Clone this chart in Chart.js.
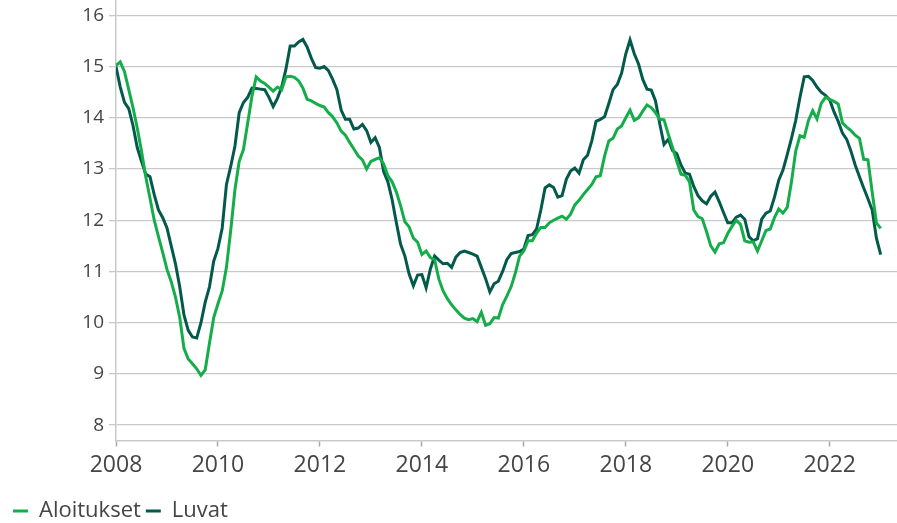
<!DOCTYPE html>
<html>
<head>
<meta charset="utf-8">
<script src="https://cdn.jsdelivr.net/npm/chart.js@4"></script>
<style>
  html, body { margin: 0; padding: 0; background: #fff; }
  #wrap { width: 897px; height: 523px; position: relative; }
</style>
</head>
<body>
<div id="wrap"><canvas id="lineChart"></canvas></div>
<script>
// monthly series, Jan 2008 .. Jan 2023
const startYear = 2008;

const aloitukset = [
  15.02, 15.09, 14.9, 14.55, 14.2, 13.8, 13.35, 12.85, 12.43, 12.0, 11.68, 11.37,
  11.04, 10.8, 10.5, 10.1, 9.5, 9.29, 9.2, 9.1, 8.97, 9.08, 9.6, 10.1,
  10.37, 10.62, 11.08, 11.8, 12.6, 13.15, 13.38, 13.9, 14.42, 14.8, 14.72, 14.67,
  14.6, 14.52, 14.6, 14.55, 14.8, 14.81, 14.79, 14.72, 14.58, 14.36, 14.33, 14.28,
  14.24, 14.21, 14.1, 14.02, 13.9, 13.74, 13.66, 13.52, 13.39, 13.26, 13.18, 13.0,
  13.15, 13.19, 13.22, 13.1, 12.87, 12.75, 12.55, 12.28, 11.97, 11.87, 11.65, 11.57,
  11.33, 11.4, 11.27, 11.23, 10.85, 10.62, 10.47, 10.35, 10.25, 10.16, 10.09, 10.06,
  10.08, 10.02, 10.2, 9.95, 9.98, 10.1, 10.09, 10.35, 10.52, 10.7, 10.97, 11.3,
  11.4, 11.6, 11.6, 11.75, 11.86, 11.86, 11.95, 12.0, 12.04, 12.08, 12.02, 12.12,
  12.3, 12.39, 12.5, 12.6, 12.7, 12.85, 12.87, 13.25, 13.55, 13.6, 13.78, 13.84,
  14.0, 14.15, 13.95, 14.0, 14.13, 14.25, 14.2, 14.1, 13.97, 13.96, 13.68, 13.42,
  13.15, 12.9, 12.88, 12.75, 12.2, 12.07, 12.03, 11.78, 11.5, 11.38, 11.54, 11.56,
  11.74, 11.88, 12.0, 11.92, 11.6, 11.57, 11.58, 11.4, 11.6, 11.8, 11.83, 12.05,
  12.22, 12.14, 12.25, 12.75, 13.35, 13.65, 13.62, 13.95, 14.14, 13.98, 14.28, 14.4,
  14.36, 14.32, 14.27, 13.9, 13.82, 13.75, 13.66, 13.6, 13.19, 13.18, 12.55, 11.95,
  11.84
];

const luvat = [
  15.0, 14.6, 14.3, 14.18, 13.85, 13.42, 13.15, 12.9, 12.85, 12.5, 12.2, 12.05,
  11.85, 11.5, 11.15, 10.7, 10.15, 9.85, 9.72, 9.7, 10.0, 10.4, 10.7, 11.2,
  11.45, 11.85, 12.7, 13.05, 13.45, 14.1, 14.3, 14.4, 14.58, 14.57, 14.56, 14.55,
  14.4, 14.22, 14.38, 14.6, 14.95, 15.4, 15.4, 15.48, 15.53, 15.38, 15.16, 14.98,
  14.97, 15.0, 14.92, 14.75, 14.55, 14.15, 13.97, 13.97, 13.78, 13.8, 13.87, 13.75,
  13.52, 13.61, 13.42, 12.95, 12.75, 12.4, 11.95, 11.53, 11.3, 10.95, 10.72, 10.93,
  10.94, 10.68, 11.05, 11.3, 11.22, 11.15, 11.16, 11.08, 11.28, 11.37, 11.4, 11.37,
  11.34, 11.3, 11.08, 10.86, 10.6, 10.76, 10.81, 11.0, 11.23, 11.35, 11.37, 11.39,
  11.44, 11.7, 11.72, 11.83, 12.2, 12.63, 12.69, 12.64, 12.45, 12.48, 12.8, 12.96,
  13.02, 12.92, 13.18, 13.27, 13.55, 13.93, 13.97, 14.02, 14.28, 14.55, 14.65, 14.87,
  15.25, 15.52, 15.25, 15.05, 14.75, 14.56, 14.54, 14.33, 13.88, 13.48, 13.58, 13.36,
  13.3, 13.08, 12.92, 12.9, 12.66, 12.48, 12.38, 12.32, 12.47, 12.55, 12.36, 12.15,
  11.95, 11.95, 12.06, 12.1, 12.02, 11.68, 11.6, 11.64, 12.02, 12.14, 12.18, 12.45,
  12.78, 12.98, 13.28, 13.6, 13.95, 14.4, 14.8, 14.81, 14.73, 14.6, 14.5, 14.44,
  14.35, 14.12, 13.93, 13.7, 13.58, 13.35, 13.08, 12.85, 12.63, 12.42, 12.2, 11.65,
  11.33
];

const xTickYears = [2008, 2010, 2012, 2014, 2016, 2018, 2020, 2022];
const yTickValues = [8, 9, 10, 11, 12, 13, 14, 15, 16];

// month index -> decimal year on the x axis
const toPoints = arr => arr.map((v, i) => ({ x: startYear + i / 12, y: v }));

const textColor = '#454545';
const gridColor = '#c9c9c9';

new Chart(document.getElementById('lineChart'), {
  type: 'line',
  data: {
    datasets: [
      {
        label: 'Aloitukset',
        data: toPoints(aloitukset),
        borderColor: '#14ad4a',
        backgroundColor: '#14ad4a',
        borderWidth: 3,
        pointRadius: 0,
        tension: 0
      },
      {
        label: 'Luvat',
        data: toPoints(luvat),
        borderColor: '#035a4b',
        backgroundColor: '#035a4b',
        borderWidth: 3,
        pointRadius: 0,
        tension: 0
      }
    ]
  },
  options: {
    responsive: true,
    maintainAspectRatio: false,
    animation: false,
    layout: { padding: { left: 8, right: 0, top: 0, bottom: -9 } },
    scales: {
      x: {
        type: 'linear',
        min: 2008,
        max: 2023.32,
        afterBuildTicks: axis => { axis.ticks = xTickYears.map(v => ({ value: v })); },
        afterFit: axis => {
          axis.height = 54.5;
          axis.paddingLeft = 0;
          axis.paddingRight = 0;
        },
        ticks: {
          autoSkip: false,
          maxRotation: 0,
          padding: 5,
          color: textColor,
          font: { family: 'Open Sans', size: 23 },
          callback: v => String(v)
        },
        grid: {
          drawOnChartArea: false,
          drawTicks: true,
          tickLength: 6,
          tickColor: '#a8a8a8',
          tickWidth: 1.5
        },
        border: { display: true, color: gridColor, width: 1.5 }
      },
      y: {
        min: 7.7,
        max: 16.3,
        afterBuildTicks: axis => { axis.ticks = yTickValues.map(v => ({ value: v })); },
        afterFit: axis => {
          axis.width = 108;
          axis.paddingTop = 0;
          axis.paddingBottom = 0;
        },
        ticks: {
          padding: 5,
          color: textColor,
          font: { family: 'Open Sans', size: 19 }
        },
        grid: {
          color: gridColor,
          lineWidth: 1.3,
          tickLength: 7,
          tickColor: gridColor
        },
        border: { display: true, color: gridColor, width: 1.5 }
      }
    },
    plugins: {
      legend: {
        display: true,
        position: 'bottom',
        align: 'start',
        labels: {
          boxWidth: 15,
          boxHeight: 3,
          padding: 5,
          color: textColor,
          font: { family: 'Open Sans', size: 22 },
          // thin line marker: no stroke around the box
          generateLabels: chart => {
            const items = Chart.defaults.plugins.legend.labels.generateLabels(chart);
            items.forEach(it => { it.lineWidth = 0; });
            return items;
          }
        }
      },
      tooltip: { enabled: false }
    }
  }
});
</script>
</body>
</html>
